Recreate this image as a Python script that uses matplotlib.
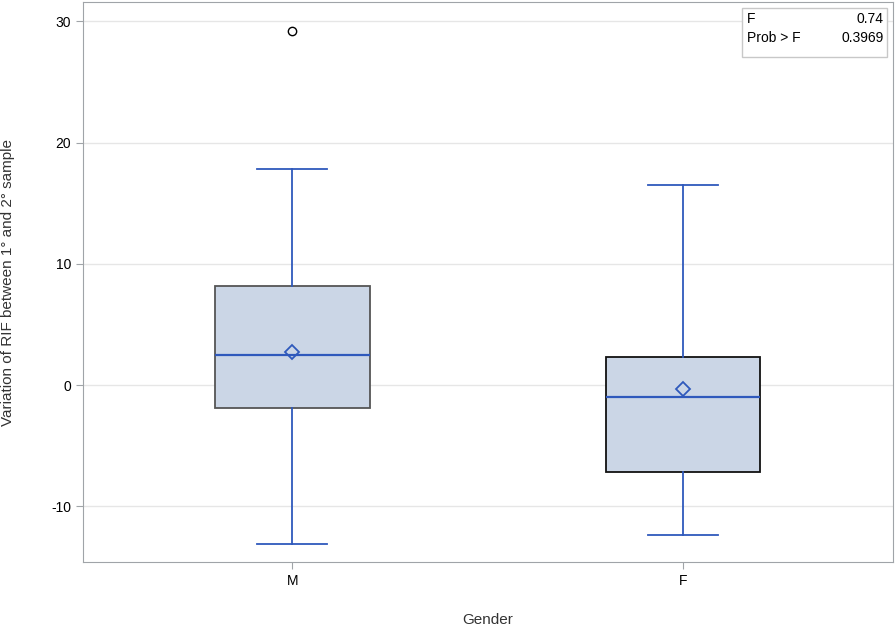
import matplotlib
matplotlib.use("Agg")
import matplotlib.pyplot as plt
from matplotlib.patches import Rectangle

plt.rcParams["font.family"] = ["Liberation Sans", "DejaVu Sans"]

groups = ["M", "F"]
q1 = [-1.9, -7.2]
med = [2.5, -1.0]
q3 = [8.2, 2.3]
mean = [2.7, -0.35]
whislo = [-13.1, -12.4]
whishi = [17.8, 16.5]
outliers = [[29.2], []]

f_value = "0.74"
p_value = "0.3969"

blue = "#2F59BC"
fill = "#CBD6E6"
edges = ["#555555", "#111111"]

stats = []
for i, g in enumerate(groups):
    stats.append({"label": g, "q1": q1[i], "med": med[i], "q3": q3[i], "mean": mean[i],
                  "whislo": whislo[i], "whishi": whishi[i], "fliers": outliers[i]})

fig = plt.figure(figsize=(8.96, 6.28), dpi=100)
ax = fig.add_axes([83 / 896, 66 / 628, 810 / 896, 560 / 628])

for i, s in enumerate(stats):
    ax.bxp([s], positions=[i], widths=0.396, patch_artist=True, showmeans=True,
           boxprops=dict(facecolor=fill, edgecolor=edges[i], linewidth=1.3),
           medianprops=dict(color=blue, linewidth=1.6),
           whiskerprops=dict(color=blue, linewidth=1.3),
           capprops=dict(color=blue, linewidth=1.3),
           capwidths=0.18,
           meanprops=dict(marker="D", markerfacecolor="none", markeredgecolor=blue,
                          markersize=7, markeredgewidth=1.3),
           flierprops=dict(marker="o", markerfacecolor="none", markeredgecolor="black",
                           markersize=6, markeredgewidth=1.0))

ax.set_xlim(-0.535, 1.537)
ax.set_ylim(-14.6, 31.6)
ax.set_yticks([-10, 0, 10, 20, 30])
ax.set_yticklabels(["-10", "0", "10", "20", "30"])
ax.set_xticks([0, 1])
ax.set_xticklabels(groups)
ax.yaxis.grid(True, color="#E6E6E6", linewidth=1)
ax.set_axisbelow(True)
for sp in ax.spines.values():
    sp.set_color("#A0A4A8")
ax.tick_params(colors="#A0A4A8", labelcolor="black", labelsize=10, length=5)
ax.set_xlabel("Gender", fontsize=11, color="#333333", labelpad=18)
ax.set_ylabel("Variation of RIF between 1° and 2° sample", fontsize=11, color="#333333", labelpad=26)

# stats inset
ax.add_patch(Rectangle((0.814, 0.902), 0.179, 0.087, transform=ax.transAxes,
                       facecolor="white", edgecolor="#C8C8C8", linewidth=1, zorder=5))
ax.text(0.82, 0.982, "F\nProb > F", transform=ax.transAxes, ha="left", va="top",
        fontsize=10, linespacing=1.45, zorder=6)
ax.text(0.988, 0.982, f_value + "\n" + p_value, transform=ax.transAxes, ha="right", va="top",
        fontsize=10, linespacing=1.45, zorder=6)

fig.savefig("out.png", dpi=100)
